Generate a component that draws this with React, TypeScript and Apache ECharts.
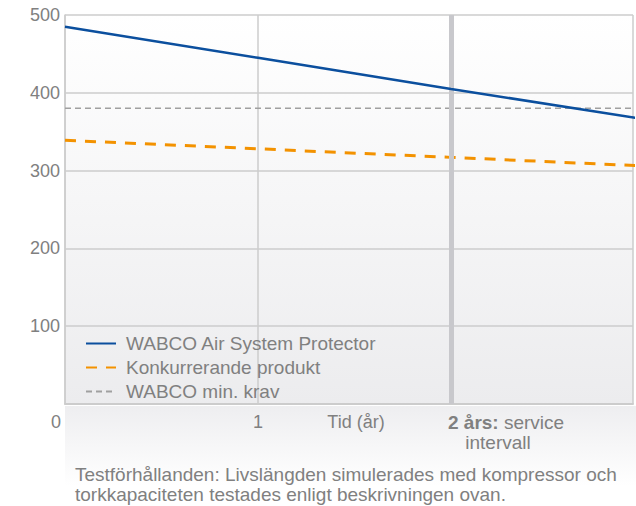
import React, { useEffect, useRef } from "react";
import * as echarts from "echarts";

const years = [0, 1, 2, 3];
const wabcoValues = [485, 445, 405, 366];
const konkurrentValues = [339, 328, 317, 306];
const minKrav = 380;
const seriesNames = ["WABCO Air System Protector", "Konkurrerande produkt", "WABCO min. krav"];
const yTicks = [100, 200, 300, 400, 500];
const xTicks = [1];
const serviceYear = 2;
const footnote = [
  "Testförhållanden: Livslängden simulerades med kompressor och",
  "torkkapaciteten testades enligt beskrivningen ovan.",
];

const FONT = "'Liberation Sans', Arial, sans-serif";
const GREY = "#808080";

export default function App() {
  const ref = useRef<HTMLDivElement>(null);
  useEffect(() => {
    if (!ref.current) return;
    const chart = echarts.init(ref.current, null, { renderer: "svg" });
    const pair = (vals: number[]) => years.map((y, i) => [y, vals[i]]);
    chart.setOption({
      animation: false,
      textStyle: { fontFamily: FONT },
      grid: {
        left: 65,
        top: 15,
        right: 0,
        bottom: 102,
        show: true,
        borderWidth: 0,
        backgroundColor: new echarts.graphic.LinearGradient(0, 0, 0, 1, [
          { offset: 0, color: "#ffffff" },
          { offset: 1, color: "#ececee" },
        ]),
      },
      xAxis: {
        type: "value",
        min: 0,
        max: 2.943,
        interval: 1,
        axisLine: { show: true, lineStyle: { color: "#cccccc", width: 2 } },
        axisTick: { show: false },
        splitLine: { show: true, lineStyle: { color: "#cccccc", width: 1.5 } },
        axisLabel: {
          color: GREY,
          fontSize: 18,
          fontFamily: FONT,
          margin: 9,
          formatter: (v: number) => (xTicks.includes(v) ? String(v) : ""),
        },
      },
      yAxis: {
        type: "value",
        min: 0,
        max: 500,
        interval: 100,
        axisLine: { show: true, lineStyle: { color: "#cccccc", width: 1.5 } },
        axisTick: { show: false },
        splitLine: { show: true, lineStyle: { color: "#cccccc", width: 1.5 } },
        axisLabel: {
          color: GREY,
          fontSize: 18,
          fontFamily: FONT,
          margin: 5,
          formatter: (v: number) => (yTicks.includes(v) ? String(v) : ""),
        },
      },
      legend: {
        orient: "vertical",
        left: 80,
        top: 329,
        itemWidth: 30,
        itemHeight: 14,
        itemGap: 5,
        data: seriesNames,
        itemStyle: { opacity: 0 },
        textStyle: { color: GREY, fontSize: 19, fontFamily: FONT, padding: [0, 0, 0, 5] },
      },
      series: [
        {
          name: "service",
          type: "line",
          data: [],
          z: 1,
          silent: true,
          markLine: {
            symbol: "none",
            silent: true,
            label: { show: false },
            lineStyle: { color: "#c8c8cc", width: 5, type: "solid" },
            data: [{ xAxis: serviceYear }],
          },
        },
        {
          name: seriesNames[2],
          type: "line",
          data: pair(years.map(() => minKrav)),
          symbol: "none",
          z: 3,
          lineStyle: { color: "#a0a0a0", width: 1.5, type: [6, 4] },
          itemStyle: { color: "#a0a0a0" },
        },
        {
          name: seriesNames[1],
          type: "line",
          data: pair(konkurrentValues),
          symbol: "none",
          z: 4,
          lineStyle: { color: "#f39200", width: 3, type: [11, 9] },
          itemStyle: { color: "#f39200" },
        },
        {
          name: seriesNames[0],
          type: "line",
          data: pair(wabcoValues),
          symbol: "none",
          z: 5,
          lineStyle: { color: "#0b4f9e", width: 2.5 },
          itemStyle: { color: "#0b4f9e" },
        },
      ],
      graphic: [
        {
          type: "rect",
          z: -1,
          shape: { x: 65, y: 406, width: 571, height: 80 },
          style: {
            fill: new echarts.graphic.LinearGradient(0, 0, 0, 1, [
              { offset: 0, color: "#eeeef0" },
              { offset: 1, color: "#ffffff" },
            ]),
          },
        },
        {
          type: "text",
          x: 61,
          y: 422,
          style: { text: "0", fill: GREY, font: `18px ${FONT}`, align: "right", verticalAlign: "middle" },
        },
        {
          type: "text",
          x: 356,
          y: 422,
          style: { text: "Tid (år)", fill: GREY, font: `18px ${FONT}`, align: "center", verticalAlign: "middle" },
        },
        {
          type: "text",
          x: 448,
          y: 422,
          style: {
            text: "{b|2 års:} service",
            fill: GREY,
            font: `19px ${FONT}`,
            verticalAlign: "middle",
            rich: { b: { fontWeight: "bold", fill: GREY, fontSize: 19, fontFamily: FONT } },
          },
        },
        {
          type: "text",
          x: 498,
          y: 442,
          style: { text: "intervall", fill: GREY, font: `19px ${FONT}`, align: "center", verticalAlign: "middle" },
        },
        {
          type: "text",
          x: 75,
          y: 474,
          style: { text: footnote[0], fill: GREY, font: `19px ${FONT}`, verticalAlign: "middle" },
        },
        {
          type: "text",
          x: 75,
          y: 494,
          style: { text: footnote[1], fill: GREY, font: `19px ${FONT}`, verticalAlign: "middle" },
        },
      ],
    });
    return () => chart.dispose();
  }, []);
  return <div ref={ref} style={{ width: 636, height: 506, position: "absolute", left: 0, top: 0 }} />;
}
